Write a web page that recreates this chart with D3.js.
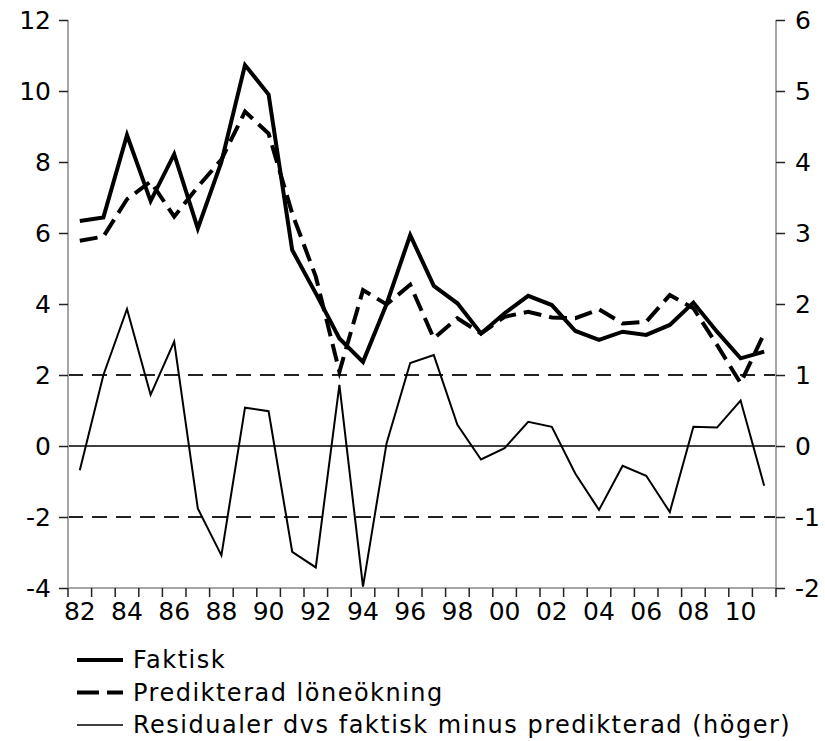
<!DOCTYPE html>
<html>
<head>
<meta charset="utf-8">
<script src="https://cdn.jsdelivr.net/npm/d3@7"></script>
<style>
  body { margin: 0; background: #fff; }
  text { font-family: "DejaVu Sans", Verdana, sans-serif; fill: #000; }
</style>
</head>
<body>
<div id="chart"></div>
<script>
(function() {
    var years = ["82","83","84","85","86","87","88","89","90","91","92","93","94","95","96","97","98","99","00","01","02","03","04","05","06","07","08","09","10","11"];
    var faktisk = [6.34, 6.44, 8.76, 6.9, 8.22, 6.13, 8.0, 10.73, 9.9, 5.52, 4.3, 3.03, 2.37, 4.0, 5.94, 4.51, 4.02, 3.17, 3.74, 4.23, 3.97, 3.24, 2.99, 3.22, 3.13, 3.41, 4.04, 3.22, 2.47, 2.66];
    var predikterad = [5.78, 5.9, 6.95, 7.45, 6.46, 7.3, 8.07, 9.42, 8.8, 6.55, 4.77, 2.09, 4.39, 3.99, 4.54, 3.03, 3.6, 3.17, 3.64, 3.78, 3.62, 3.6, 3.85, 3.45, 3.5, 4.25, 3.88, 2.85, 1.77, 3.17];
    var residualer = [-0.34, 1.0, 1.93, 0.72, 1.47, -0.88, -1.54, 0.54, 0.49, -1.49, -1.71, 0.86, -1.98, 0.04, 1.17, 1.28, 0.3, -0.19, -0.03, 0.34, 0.27, -0.39, -0.9, -0.28, -0.42, -0.93, 0.27, 0.26, 0.64, -0.56];
    var leftTicks = [-4, -2, 0, 2, 4, 6, 8, 10, 12];
    var rightTicks = [-2, -1, 0, 1, 2, 3, 4, 5, 6];
    var refLines = [-1, 1];
    var legendLabels = ["Faktisk", "Predikterad löneökning", "Residualer dvs faktisk minus predikterad (höger)"];

    var width = 825,
        height = 741;
    var left = 68, right = 776, top = 20, bottom = 588;

    var svg = d3.select("#chart")
        .append("svg")
        .attr("width", width)
        .attr("height", height)

    var x = d3.scaleBand().domain(years).range([left, right])
    var yLeft = d3.scaleLinear().domain([-4, 12]).range([bottom, top])
    var yRight = d3.scaleLinear().domain([-2, 6]).range([bottom, top])

    function cx(d, i) { return x(years[i]) + x.bandwidth() / 2 }

    // reference lines on the right scale
    svg.selectAll(".ref")
        .data(refLines)
        .enter().append("line")
        .attr("x1", left).attr("x2", right)
        .attr("y1", function(d) { return yRight(d) })
        .attr("y2", function(d) { return yRight(d) })
        .attr("stroke", "#222")
        .attr("stroke-width", 2)
        .attr("stroke-dasharray", "15,9")

    svg.append("line")
        .attr("x1", left).attr("x2", right)
        .attr("y1", yRight(0)).attr("y2", yRight(0))
        .attr("stroke", "#000")
        .attr("stroke-width", 1.5)

    // axes
    var axisLeft = svg.append("g")
        .attr("transform", "translate(" + left + ",0)")
        .call(d3.axisLeft(yLeft).tickValues(leftTicks).tickSize(9).tickPadding(8).tickFormat(function(d) { return String(d) }))

    var axisRight = svg.append("g")
        .attr("transform", "translate(" + right + ",0)")
        .call(d3.axisRight(yRight).tickValues(rightTicks).tickSize(9).tickPadding(10).tickFormat(function(d) { return String(d) }))

    var axisBottom = svg.append("g")
        .attr("transform", "translate(0," + bottom + ")")
        .call(d3.axisBottom(x).tickSize(0).tickPadding(14).tickFormat(function(d, i) { return i % 2 == 0 ? d : "" }))

    // tick marks between categories
    var bounds = years.map(function(d) { return x(d) }).concat([right])
    svg.selectAll(".xtick")
        .data(bounds)
        .enter().append("line")
        .attr("x1", function(d) { return d }).attr("x2", function(d) { return d })
        .attr("y1", bottom).attr("y2", bottom + 9)
        .attr("stroke", "#222")
        .attr("stroke-width", 1.5)

    ;[axisLeft, axisRight, axisBottom].forEach(function(g) {
        g.select(".domain").attr("stroke", "#a6a6a6").attr("stroke-width", 2)
        g.selectAll(".tick line").attr("stroke", "#222").attr("stroke-width", 1.5)
        g.selectAll("text").style("font-size", "25px").attr("fill", "#000")
    })
    axisLeft.select(".domain").attr("d", "M0," + top + "V" + bottom)
    axisRight.select(".domain").attr("d", "M0," + top + "V" + bottom)
    axisBottom.select(".domain").attr("d", "M" + left + ",0H" + right)

    // series
    var lineLeft = d3.line().x(cx).y(function(d) { return yLeft(d) })
    var lineRight = d3.line().x(cx).y(function(d) { return yRight(d) })

    svg.append("path")
        .datum(residualer)
        .attr("d", lineRight)
        .attr("fill", "none")
        .attr("stroke", "#000")
        .attr("stroke-width", 2)

    svg.append("path")
        .datum(predikterad)
        .attr("d", lineLeft)
        .attr("fill", "none")
        .attr("stroke", "#000")
        .attr("stroke-width", 4)
        .attr("stroke-dasharray", "18,8")

    svg.append("path")
        .datum(faktisk)
        .attr("d", lineLeft)
        .attr("fill", "none")
        .attr("stroke", "#000")
        .attr("stroke-width", 4)

    // legend
    var legendStyles = [
        { w: 4, dash: null },
        { w: 4, dash: "22,8" },
        { w: 1.5, dash: null }
    ]
    var legend = svg.selectAll(".legend")
        .data(legendLabels)
        .enter().append("g")
        .attr("transform", function(d, i) { return "translate(77," + (660 + i * 32.5) + ")" })

    legend.append("line")
        .attr("x1", 0).attr("x2", 46)
        .attr("stroke", "#000")
        .attr("stroke-width", function(d, i) { return legendStyles[i].w })
        .attr("stroke-dasharray", function(d, i) { return legendStyles[i].dash })

    legend.append("text")
        .attr("x", 56)
        .attr("dy", "0.35em")
        .style("font-size", "24px")
        .style("letter-spacing", "1.5px")
        .text(function(d) { return d })
})();
</script>
</body>
</html>
